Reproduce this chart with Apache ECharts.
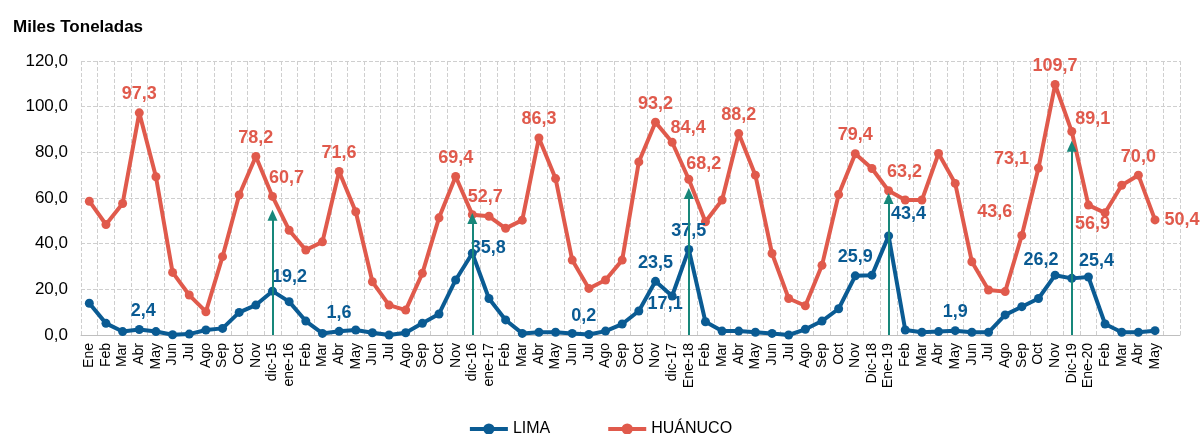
<!DOCTYPE html>
<html>
<head>
<meta charset="utf-8">
<script src="https://cdn.jsdelivr.net/npm/echarts@6/dist/echarts.min.js"></script>
<style>
html,body{margin:0;padding:0;background:#fff;}
#chart{width:1200px;height:434px;}
</style>
</head>
<body>
<div id="chart"></div>
<script>
const categories = ['Ene','Feb','Mar','Abr','May','Jun','Jul','Ago','Sep','Oct','Nov','dic-15',
  'ene-16','Feb','Mar','Abr','May','Jun','Jul','Ago','Sep','Oct','Nov','dic-16',
  'ene-17','Feb','Mar','Abr','May','Jun','Jul','Ago','Sep','Oct','Nov','dic-17',
  'Ene-18','Feb','Mar','Abr','May','Jun','Jul','Ago','Sep','Oct','Nov','Dic-18',
  'Ene-19','Feb','Mar','Abr','May','Jun','Jul','Ago','Sep','Oct','Nov','Dic-19',
  'Ene-20','Feb','Mar','Abr','May',''];

const lima = [13.9,5.1,1.5,2.4,1.5,0.1,0.4,2.2,2.9,9.9,13.1,19.2,
  14.6,6.1,0.7,1.6,2.2,1.0,0.0,1.0,5.1,9.2,24.1,35.8,
  16.0,6.6,0.7,1.2,1.2,0.7,0.2,1.7,4.8,10.5,23.5,17.1,
  37.5,5.8,1.7,1.7,1.2,0.7,0.0,2.5,6.1,11.5,25.9,26.2,
  43.4,2.2,1.2,1.5,1.9,1.2,1.2,8.8,12.4,16.0,26.2,24.8,
  25.4,4.8,1.2,1.2,1.9];

const huanuco = [58.6,48.4,57.6,97.3,69.3,27.4,17.5,10.2,34.3,61.3,78.2,60.7,
  45.9,37.2,40.8,71.6,54.0,23.3,13.1,10.9,27.0,51.3,69.4,52.7,
  52.0,46.7,50.3,86.3,68.5,32.8,20.4,24.1,32.8,75.8,93.2,84.4,
  68.2,49.6,59.1,88.2,70.0,35.7,16.0,12.8,30.5,61.5,79.4,72.9,
  63.2,59.1,59.1,79.5,66.4,32.1,19.7,19.0,43.6,73.1,109.7,89.1,
  56.9,53.5,65.6,70.0,50.4];

const yTicks = [0,20,40,60,80,100,120];

// arrows: category index and top value
const arrowIdx = [11,23,36,48,59];
const arrowTop = [52.5,51.0,62.0,59.8,82.7];

const limaLabels = {3:{offset:[4,0]},11:{offset:[17,4]},15:{},23:{offset:[16,13]},30:{offset:[-5,0]},
  34:{},35:{position:'bottom',offset:[-7,-10]},36:{},46:{},48:{offset:[20,-3]},52:{},
  58:{offset:[-14,3]},60:{offset:[8,3]}};
const huaLabels = {3:{},10:{},11:{offset:[14,0]},15:{},22:{},23:{offset:[13,1]},27:{},34:{},
  35:{offset:[16,4]},36:{offset:[15,3]},39:{},46:{},48:{offset:[16,0]},56:{offset:[-27,-5]},
  57:{offset:[-27,9]},58:{},59:{offset:[21,6]},60:{position:'bottom',offset:[4,0]},63:{},64:{position:'right'}};

const BLUE = '#0A5B93';
const RED = '#E05A4C';
const TEAL = '#17877A';
const FONT = 'Liberation Sans';
const fmt = v => v.toFixed(1).replace('.', ',');

function build(values, spec, color) {
  return values.map((v, i) => {
    if (!spec[i]) return v;
    return {value: v, label: Object.assign({show: true, position: 'top', color: color,
      fontWeight: 'bold', fontSize: 18, fontFamily: FONT, formatter: p => fmt(p.value)}, spec[i])};
  });
}

const chart = echarts.init(document.getElementById('chart'));
chart.setOption({
  animation: false,
  title: {text: 'Miles Toneladas', left: 8, top: 14,
    textStyle: {fontFamily: FONT, fontWeight: 'bold', fontSize: 17, color: '#000'}},
  grid: {left: 81, right: 20, top: 61, bottom: 99},
  legend: {top: 421, padding: 0, left: 'center', itemWidth: 38, itemHeight: 14, itemGap: 56,
    lineStyle: {width: 4},
    textStyle: {fontFamily: FONT, fontSize: 16, color: '#000'},
    data: ['LIMA', 'HUÁNUCO']},
  xAxis: {type: 'category', data: categories, boundaryGap: true,
    axisLine: {lineStyle: {color: '#bfbfbf'}},
    axisTick: {show: false},
    splitLine: {show: true, interval: 0, lineStyle: {type: 'dashed', color: '#cfcfcf'}},
    axisLabel: {interval: 0, rotate: 90, fontFamily: FONT, fontSize: 14, color: '#000', margin: 8}},
  yAxis: {type: 'value', min: yTicks[0], max: yTicks[yTicks.length-1], interval: 20,
    axisLine: {show: false}, axisTick: {show: false},
    splitLine: {lineStyle: {type: 'dashed', color: '#cfcfcf'}},
    axisLabel: {formatter: v => fmt(v), fontFamily: FONT, fontSize: 17, color: '#000', margin: 13}},
  series: [
    {name: 'LIMA', type: 'line', data: build(lima, limaLabels, BLUE),
      symbol: 'circle', symbolSize: 9, clip: false,
      lineStyle: {color: BLUE, width: 4}, itemStyle: {color: BLUE}},
    {name: 'HUÁNUCO', type: 'line', data: build(huanuco, huaLabels, RED),
      symbol: 'circle', symbolSize: 9, clip: false,
      lineStyle: {color: RED, width: 4}, itemStyle: {color: RED},
      markLine: {silent: true, symbol: ['none', 'triangle'], symbolSize: [10, 11], z: 10,
        label: {show: false},
        lineStyle: {color: TEAL, width: 2, type: 'solid'},
        data: arrowIdx.map((c, k) => [{coord: [c, 0]}, {coord: [c, arrowTop[k]]}])}}
  ]
});
</script>
</body>
</html>
